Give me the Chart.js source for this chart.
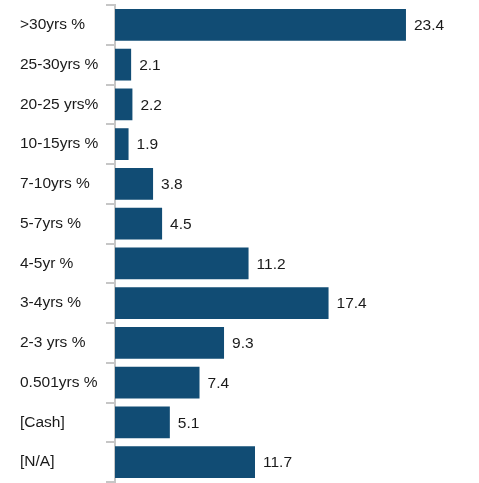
<!DOCTYPE html>
<html>
<head>
<meta charset="utf-8">
<script src="https://cdn.jsdelivr.net/npm/chart.js@4"></script>
<style>
html,body{margin:0;padding:0;background:#fff;}
#wrap{width:479px;height:483px;}
</style>
</head>
<body>
<div id="wrap"><canvas id="c" width="479" height="483"></canvas></div>
<script>
const categories = [">30yrs %", "25-30yrs %", "20-25 yrs%", "10-15yrs %", "7-10yrs %", "5-7yrs %", "4-5yr %", "3-4yrs %", "2-3 yrs %", "0.501yrs %", "[Cash]", "[N/A]"];
const values = [23.4, 2.1, 2.2, 1.9, 3.8, 4.5, 11.2, 17.4, 9.3, 7.4, 5.1, 11.7];
const valueLabels = ["23.4", "2.1", "2.2", "1.9", "3.8", "4.5", "11.2", "17.4", "9.3", "7.4", "5.1", "11.7"];

const FONT = "'Liberation Sans', Arial, sans-serif";

const valueLabelPlugin = {
  id: 'valueLabels',
  afterDatasetsDraw(chart) {
    const ctx = chart.ctx;
    const meta = chart.getDatasetMeta(0);
    ctx.save();
    ctx.font = "15.5px " + FONT;
    ctx.fillStyle = '#1a1a1a';
    ctx.textAlign = 'left';
    ctx.textBaseline = 'middle';
    meta.data.forEach((bar, i) => {
      ctx.fillText(valueLabels[i], bar.x + 8, bar.y + 1);
    });
    ctx.restore();
  }
};

new Chart(document.getElementById('c'), {
  type: 'bar',
  data: {
    labels: categories,
    datasets: [{
      data: values,
      backgroundColor: '#114c74',
      borderWidth: 0,
      barPercentage: 0.8,
      categoryPercentage: 1.0
    }]
  },
  options: {
    indexAxis: 'y',
    responsive: false,
    animation: false,
    devicePixelRatio: 1,
    layout: { padding: { left: 20, top: 5, bottom: 1, right: 4 } },
    plugins: { legend: { display: false }, tooltip: { enabled: false } },
    scales: {
      x: {
        display: false,
        min: 0.85,
        max: 28.75
      },
      y: {
        afterFit(scale) {
          scale.width = 95;
          scale.paddingTop = 0;
          scale.paddingBottom = 0;
        },
        grid: {
          drawOnChartArea: false,
          drawTicks: true,
          tickLength: 9,
          color: '#c6c6c6',
          lineWidth: 2,
          offset: true
        },
        border: { display: true, color: '#c6c6c6', width: 2 },
        ticks: {
          crossAlign: 'far',
          color: '#1a1a1a',
          font: { family: FONT, size: 15.5 },
          padding: 4
        }
      }
    }
  },
  plugins: [valueLabelPlugin]
});
</script>
</body>
</html>
